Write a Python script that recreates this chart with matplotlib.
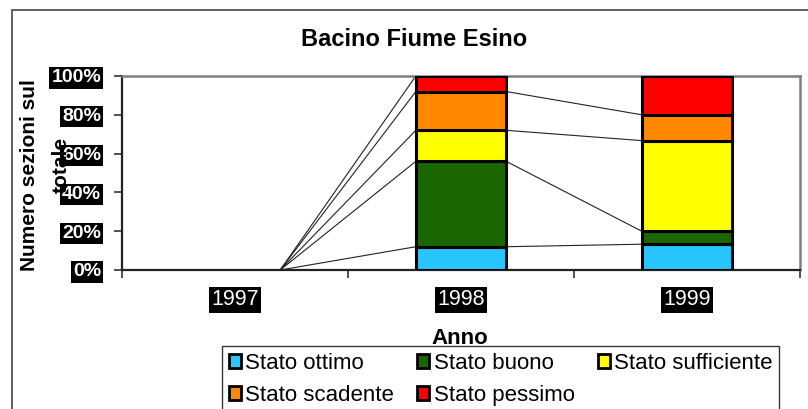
import matplotlib
matplotlib.use('Agg')
import matplotlib.pyplot as plt
from matplotlib.patches import Rectangle, Patch
import numpy as np

plt.rcParams['font.family'] = ['Liberation Sans', 'DejaVu Sans']

# data (percent of sections per class)
anni = ['1997', '1998', '1999']
classi = ['Stato ottimo', 'Stato buono', 'Stato sufficiente',
          'Stato scadente', 'Stato pessimo']
ottimo = [0, 12.0, 13.3]
buono = [0, 44.0, 6.7]
sufficiente = [0, 16.0, 46.7]
scadente = [0, 20.0, 13.3]
pessimo = [0, 8.0, 20.0]
colori = ['#29C5FF', '#1A6600', '#FFFF00', '#FF8800', '#FF0000']

serie = [ottimo, buono, sufficiente, scadente, pessimo]

fig = plt.figure(figsize=(8.08, 4.09), dpi=100)
W, H = 808.0, 409.0
ax = fig.add_axes([122 / W, 1 - 270 / H, (800 - 122) / W, (270 - 76) / H])

x = np.arange(len(anni))
w = 0.40
bottom = np.zeros(len(anni))
tops = []
for vals, col, nome in zip(serie, colori, classi):
    vals = np.array(vals, dtype=float)
    lw = [2.2 if v > 0 else 0 for v in vals]
    ax.bar(x, vals, w, bottom=bottom, color=col, edgecolor='black',
           linewidth=lw, label=nome, zorder=3)
    bottom = bottom + vals
    tops.append(bottom.copy())

# series lines between adjacent bars
for cum in [np.zeros(len(anni))] + tops:
    for i in range(len(anni) - 1):
        ax.plot([x[i] + w / 2, x[i + 1] - w / 2], [cum[i], cum[i + 1]],
                color='#222222', lw=0.8, zorder=2)

ax.set_xlim(-0.5, 2.5)
ax.set_ylim(0, 100)

# y axis
ax.set_yticks([0, 20, 40, 60, 80, 100])
ax.set_yticklabels(['0%', '20%', '40%', '60%', '80%', '100%'])
ax.tick_params(axis='y', direction='out', length=6, width=1.2, pad=9,
               labelsize=14, labelcolor='white', color='#333333')
for lbl in ax.get_yticklabels():
    lbl.set_fontweight('bold')
    lbl.set_bbox(dict(facecolor='black', edgecolor='none', pad=1.5))

# x axis: ticks at boundaries, labels at centres
ax.set_xticks([-0.5, 0.5, 1.5, 2.5])
ax.set_xticklabels([])
ax.set_xticks(x, minor=True)
ax.set_xticklabels(anni, minor=True)
ax.tick_params(axis='x', which='major', direction='out', length=6,
               width=1.2, color='#333333')
ax.tick_params(axis='x', which='minor', length=0, pad=14, labelsize=15.5,
               labelcolor='white')
for lbl in ax.get_xticklabels(minor=True):
    lbl.set_bbox(dict(facecolor='black', edgecolor='none', pad=1.5))

for s in ['left', 'bottom']:
    ax.spines[s].set_color('#222222')
    ax.spines[s].set_linewidth(1.6)
for s in ['top', 'right']:
    ax.spines[s].set_color('#808080')
    ax.spines[s].set_linewidth(1.8)

# titles
fig.text(414 / W, 1 - 39 / H, 'Bacino Fiume Esino', ha='center',
         va='center', fontsize=17, fontweight='bold')
fig.text(30 / W, 1 - 175 / H, 'Numero sezioni sul', ha='center',
         va='center', rotation=90, fontsize=15, fontweight='bold')
fig.text(61 / W, 1 - 165 / H, 'totale', ha='center', va='center',
         rotation=90, fontsize=15, fontweight='bold')
fig.text(460 / W, 1 - 338 / H, 'Anno', ha='center', va='center',
         fontsize=16, fontweight='bold')

# outer chart border (cropped at right/bottom)
fig.patches.append(Rectangle((12 / W, -0.05), 1.0, 1 - 10 / H + 0.05,
                             transform=fig.transFigure, fill=False,
                             edgecolor='#444444', lw=1.2, zorder=0))

# legend filled row by row like the original
order = [0, 3, 1, 4, 2]
handles = [Patch(facecolor=colori[k], edgecolor='black', linewidth=2)
           for k in order]
labels = [classi[k] for k in order]
leg = fig.legend(handles, labels, ncol=3, loc='upper left',
                 bbox_to_anchor=(222 / W, 1 - 346 / H), borderaxespad=0,
                 fontsize=16, frameon=True, fancybox=False,
                 handlelength=0.55, handleheight=0.55, handletextpad=0.2,
                 columnspacing=1.03, labelspacing=0.5, borderpad=0.3)
leg.get_frame().set_edgecolor('black')
leg.get_frame().set_linewidth(1.0)
leg.set_zorder(5)

fig.savefig('out.png', dpi=100, facecolor='white')
